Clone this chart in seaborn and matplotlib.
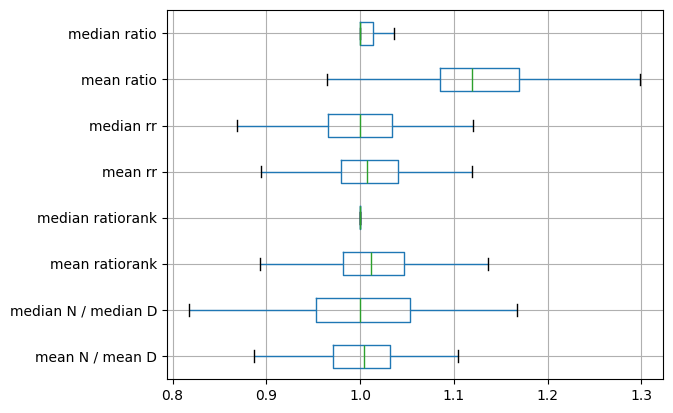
import numpy as np
import pandas as pd
import matplotlib
matplotlib.use("Agg")
import matplotlib.pyplot as plt
import seaborn as sns

# Categories, top to bottom
categories = ["median ratio", "mean ratio", "median rr", "mean rr",
              "median ratiorank", "mean ratiorank",
              "median N / median D", "mean N / mean D"]

# Five-number summaries: min, q1, median, q3, max
whisker_low = [1.000, 0.965, 0.869, 0.894, 1.000, 0.893, 0.818, 0.887]
q1_values   = [1.000, 1.085, 0.966, 0.980, 1.000, 0.982, 0.953, 0.971]
medians     = [1.000, 1.119, 1.000, 1.007, 1.000, 1.012, 1.000, 1.004]
q3_values   = [1.014, 1.170, 1.034, 1.041, 1.000, 1.047, 1.053, 1.032]
whisker_high = [1.036, 1.299, 1.120, 1.119, 1.000, 1.137, 1.167, 1.104]

rows = []
for i, cat in enumerate(categories):
    for v in (whisker_low[i], q1_values[i], medians[i], q3_values[i], whisker_high[i]):
        rows.append({"metric": cat, "value": v})
df = pd.DataFrame(rows)

fig, ax = plt.subplots(figsize=(6.73, 4.13), dpi=100)
fig.subplots_adjust(left=0.248, right=0.985, top=0.975, bottom=0.082)

sns.boxplot(data=df, x="value", y="metric", order=categories, orient="h",
            whis=(0, 100), width=0.5, fill=False, color="#1f77b4",
            linewidth=1.0, showfliers=False,
            medianprops=dict(color="#2ca02c", linewidth=1.0),
            capprops=dict(color="black", linewidth=1.0),
            whiskerprops=dict(color="#1f77b4", linewidth=1.0),
            boxprops=dict(color="#1f77b4", linewidth=1.0),
            ax=ax)

ax.set_xlabel("")
ax.set_ylabel("")
ax.grid(True, color="#b0b0b0", linewidth=0.8)
ax.set_axisbelow(True)
ax.set_xticks([0.8, 0.9, 1.0, 1.1, 1.2, 1.3])
ax.set_xticklabels(["0.8", "0.9", "1.0", "1.1", "1.2", "1.3"])

fig.savefig("out.png", dpi=100)
